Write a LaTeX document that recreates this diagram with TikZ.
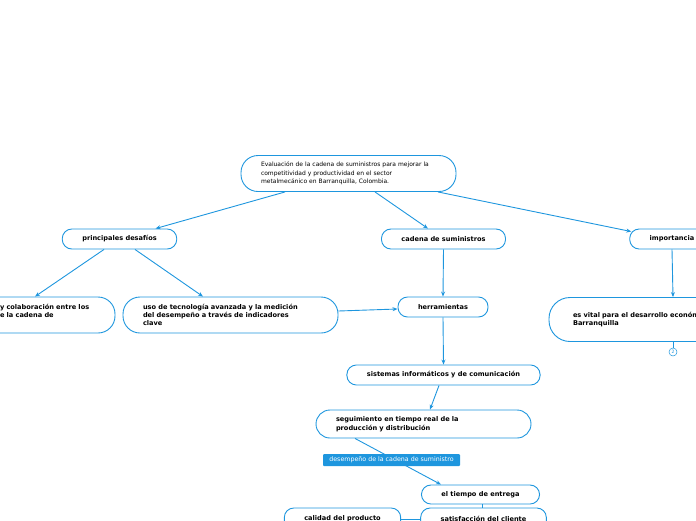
\documentclass[tikz,border=0pt]{standalone}
\usepackage{fontspec}
\setmainfont{DejaVu Sans}
\usetikzlibrary{arrows.meta}
\definecolor{mapblue}{RGB}{30,150,222}

\begin{document}
\begin{tikzpicture}[x=1pt,y=-1pt]
\useasboundingbox (0,0) rectangle (696,520);
\clip (0,0) rectangle (696,520);
\begin{scope}[every node/.style={draw=mapblue,line width=0.9pt,rounded corners=9.5pt,fill=white,inner xsep=20pt,inner ysep=0pt,minimum height=20pt,font=\fontsize{6.6}{8.4}\selectfont\bfseries}]
    \node[rounded corners=17pt,minimum height=36pt,minimum width=213pt,text width=175pt,align=left,font=\fontsize{6}{8.3}\selectfont] (evaluacion) at (348.5,173.5) {Evaluación de la cadena de suministros para mejorar la\\competitividad y productividad en el sector\\metalmecánico en Barranquilla, Colombia.};
    \node[minimum width=113pt] (desafios) at (119.5,239) {principales desafíos};
    \node[minimum width=121pt] (cadena) at (443.5,239) {cadena de suministros};
    \node[minimum width=80pt] (importancia) at (672,239) {importancia};

    \node[rounded corners=17pt,minimum height=36pt,minimum width=135pt,text width=95pt,align=left] (colaboracion) at (47.5,315) {y colaboración entre los\\e la cadena de\\~};
    \node[rounded corners=17pt,minimum height=36pt,minimum width=215pt,text width=175pt,align=left] (tecnologia) at (230.5,315) {uso de tecnología avanzada y la medición\\del desempeño a través de indicadores\\clave};
    \node[minimum width=88pt] (herramientas) at (443,307) {herramientas};
    \node[rounded corners=21pt,minimum height=44pt,minimum width=250pt,text width=202pt,align=left] (vital) at (674,319.5) {es vital para el desarrollo económico de\\Barranquilla};

    \node[minimum width=193pt] (sistemas) at (443.5,375) {sistemas informáticos y de comunicación};
    \node[rounded corners=14pt,minimum height=28pt,minimum width=215pt,text width=175pt,align=left] (seguimiento) at (423.5,424) {seguimiento en tiempo real de la\\producción y distribución};
    \node[minimum width=113pt,minimum height=19pt] (tiempo) at (480.5,494.5) {el tiempo de entrega};
    \node[minimum width=121pt,minimum height=22pt] (satisfaccion) at (483.5,519) {satisfacción del cliente};
    \node[minimum width=111pt,minimum height=22pt] (calidad) at (342.5,519) {calidad del producto};
\end{scope}

\node[circle,draw=mapblue,line width=0.5pt,fill=white,inner sep=0pt,minimum size=8pt,text=mapblue,font=\fontsize{4.5}{5}\selectfont] (dos) at (673,352) {2};

\begin{scope}[>={Stealth[mapblue,length=5pt,width=4pt]},
              every edge/.style={draw=mapblue,line width=0.9pt}]
    \path [->] ([xshift=-63.5pt]evaluacion.south) edge ([xshift=36pt]desafios.north);
    \path [->] ([xshift=26.5pt]evaluacion.south) edge ([xshift=-15.5pt]cadena.north);
    \path [->] ([xshift=89.5pt]evaluacion.south) edge ([xshift=2pt,yshift=-3pt]importancia.north west);
    \path [->] ([xshift=-15.5pt]desafios.south) edge ([xshift=-12.5pt]colaboracion.north);
    \path [->] ([xshift=15.5pt]desafios.south) edge ([xshift=-27.5pt]tecnologia.north);
    \path [->] ([yshift=4pt]tecnologia.east) edge ([yshift=-2pt]herramientas.west);
    \path [->] (cadena.south) edge (herramientas.north);
    \path [->] (herramientas.south) edge (sistemas.north);
    \path [->] ([xshift=-4.5pt]sistemas.south) edge ([xshift=6.5pt]seguimiento.north);
    \path [->] (importancia.south) edge ([xshift=-1pt]vital.north);
    \path (vital.south -| dos) edge (dos);
    \path ([xshift=2pt]tiempo.south) edge ([xshift=-1pt]satisfaccion.north);
    \path (calidad.east) edge (satisfaccion.west);
    \path [->] ([xshift=-68.5pt]seguimiento.south) edge ([xshift=-39.5pt]tiempo.north);
\end{scope}

\node[fill=mapblue,text=white,rounded corners=1pt,inner sep=0pt,minimum width=137pt,minimum height=12pt,font=\fontsize{6.3}{7}\selectfont] (desempeno) at (391.5,460) {desempeño de la cadena de suministro};
\end{tikzpicture}
\end{document}
